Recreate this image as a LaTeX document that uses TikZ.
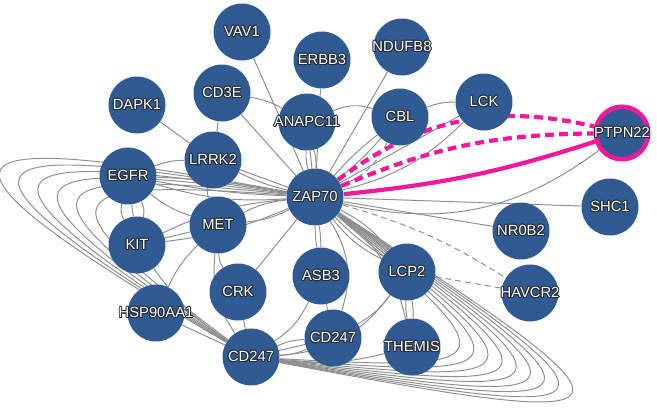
\documentclass[tikz,border=0pt]{standalone}
\usepackage{fontspec}
\setmainfont{Liberation Sans}
\usepackage{contour}
\usetikzlibrary{backgrounds}
\definecolor{genefill}{HTML}{2F5B92}
\definecolor{edgegray}{HTML}{8E8E8E}
\definecolor{hotpink}{HTML}{F0199B}
\definecolor{halo}{HTML}{222A36}
\contourlength{0.5pt}
\newcommand{\gname}[1]{\makebox[0pt]{\contour{halo}{#1}}}
\begin{document}
\begin{tikzpicture}[x=0.02cm, y=-0.02cm,
  gene/.style={circle, fill=genefill, minimum size=1.14cm, inner sep=0pt, text=white, font=\fontsize{8.4}{10}\selectfont},
  link/.style={draw=edgegray, line width=0.55pt},
  weak/.style={link, dash pattern=on 3.4pt off 2.3pt},
  hit/.style={draw=hotpink, line width=2.4pt},
  hitdash/.style={hit, dash pattern=on 5pt off 3pt}]
\useasboundingbox (0,0) rectangle (657,407);
\node[gene] (vav) at (242,32) {\gname{VAV1}};
\node[gene] (erbb) at (322,60) {\gname{ERBB3}};
\node[gene] (ndufb) at (402,47) {\gname{NDUFB8}};
\node[gene] (dapk) at (137,105) {\gname{DAPK1}};
\node[gene] (cdthree) at (222,93) {\gname{CD3E}};
\node[gene] (anapc) at (307,122) {\gname{ANAPC11}};
\node[gene] (cbl) at (400,117) {\gname{CBL}};
\node[gene] (lck) at (484,102) {\gname{LCK}};
\node[gene, draw=hotpink, line width=2.6pt, minimum size=1.05cm] (ptpn) at (622,133) {\gname{PTPN22}};
\node[gene] (lrrk) at (213,160) {\gname{LRRK2}};
\node[gene] (egfr) at (128,176) {\gname{EGFR}};
\node[gene] (zap) at (315,197) {\gname{ZAP70}};
\node[gene] (shc) at (610,207) {\gname{SHC1}};
\node[gene] (nrob) at (521,231) {\gname{NR0B2}};
\node[gene] (met) at (218,225) {\gname{MET}};
\node[gene] (kit) at (137,245) {\gname{KIT}};
\node[gene] (asb) at (321,276) {\gname{ASB3}};
\node[gene] (lcp) at (407,272) {\gname{LCP2}};
\node[gene] (havcr) at (530,293) {\gname{HAVCR2}};
\node[gene] (crk) at (238,292) {\gname{CRK}};
\node[gene] (hsp) at (156,313) {\gname{HSP90AA1}};
\node[gene] (cdr) at (333,338) {\gname{CD247}};
\node[gene] (themis) at (412,347) {\gname{THEMIS}};
\node[gene] (cdb) at (251,357) {\gname{CD247}};
\begin{scope}[on background layer]
% parallel ZAP70 - CD247 edges
\foreach \s in {1,0.93,0.86,0.79,0.72,0.65}
  \draw[link] (zap) .. controls ({283-353*\s},{277-152*\s}) and ({283-383*\s},{277-127*\s}) .. (cdb);
\foreach \s in {1,0.95,0.9,0.85,0.8,0.75,0.7,0.65,0.6}
  \draw[link] (zap) .. controls ({283+377*\s},{277+143*\s}) and ({283+377*\s},{277+158*\s}) .. (cdb);
% top
\draw[link] (vav) -- (zap);
\draw[link] (erbb) -- (zap);
\draw[link] (ndufb) -- (zap);
\draw[link] (cdthree) -- (zap);
\draw[link] (cdthree) -- (lrrk);
\draw[link] (cdthree) to[bend left=10] (anapc);
\draw[link] (dapk) -- (lrrk);
\foreach \b in {-8,0,8} \draw[link] (anapc) to[bend left=\b] (zap);
\draw[link] (anapc) to[bend left=20] (cbl);
\draw[link] (cbl) to[bend left=10] (lck);
\foreach \b in {-5,5} \draw[link] (cbl) to[bend left=\b] (zap);
\draw[weak] (cbl) to[bend left=20] (zap);
\draw[link] (lck) to[bend left=15] (zap);
\draw[link] (lck) -- (zap);
% left
\draw[link] (lrrk) -- (zap);
\draw[link] (lrrk) to[bend right=6] (zap);
\foreach \b in {-10,-4,4} \draw[link] (egfr) to[bend left=\b] (zap);
\draw[link] (egfr) to[bend left=10] (lrrk);
\foreach \b in {-20,0,20} \draw[link] (egfr) to[bend left=\b] (kit);
\draw[link] (egfr) to[bend right=10] (met);
\draw[link] (kit) -- (met);
\draw[link] (kit) to[bend left=10] (zap);
\draw[link] (kit) to[bend right=8] (zap);
\draw[link] (met) to[bend left=10] (zap);
\draw[link] (met) to[bend right=10] (zap);
\draw[link] (met) to[bend left=15] (lrrk);
\draw[link] (met) to[bend right=20] (cdb);
\draw[link] (kit) to[bend right=10] (cdb);
\draw[link] (hsp) to[bend left=10] (met);
\draw[link] (hsp) -- (cdb);
\draw[link] (crk) -- (zap);
\draw[link] (crk) -- (cdb);
\draw[link] (crk) to[bend left=15] (met);
% bottom
\foreach \b in {-4,4} \draw[link] (asb) to[bend left=\b] (zap);
\draw[link] (asb) -- (cdr);
\draw[link] (asb) to[bend left=15] (cdb);
\draw[link] (cdr) to[bend right=25] (zap);
\foreach \b in {-12,-6,0,6,12} \draw[link] (lcp) to[bend left=\b] (zap);
\foreach \b in {-6,6} \draw[link] (lcp) to[bend left=\b] (themis);
\draw[link] (lcp) to[bend left=12] (cdr);
\draw[link] (lcp) to[bend left=25] (cdb);
\draw[link] (themis) to[bend left=10] (cdb);
\draw[link] (themis) to[bend right=20] (zap);
\foreach \b in {-10,0,10} \draw[link] (cdr) to[bend left=\b] (cdb);
% right
\draw[link] (zap) -- (nrob);
\draw[link] (zap) -- (shc);
\draw[link] (zap) to[bend right=25] (ptpn);
\draw[weak] (zap) to[bend left=8] (havcr);
\draw[weak] (lcp) -- (havcr);
\draw[hit] (zap) to[bend right=6] (ptpn);
\draw[hitdash] (zap) to[bend left=11] (ptpn);
\draw[hitdash] (zap) to[bend left=25] (ptpn);
\end{scope}
\end{tikzpicture}
\end{document}
